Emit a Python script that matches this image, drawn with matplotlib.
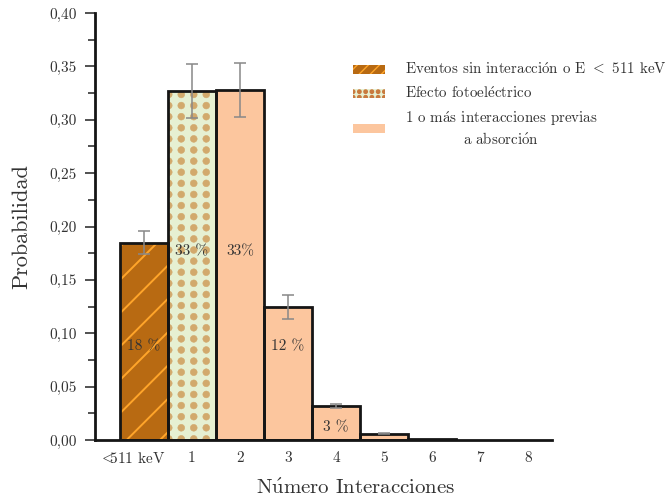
import matplotlib
matplotlib.use("Agg")
import numpy as np
from matplotlib import pyplot as plt
from matplotlib import hatch as mhatch
from matplotlib.patches import Patch
from matplotlib.path import Path
from matplotlib.transforms import ScaledTranslation

plt.rcParams['font.family'] = ['cmr10', 'DejaVu Serif']
plt.rcParams['mathtext.fontset'] = 'cm'
plt.rcParams['axes.formatter.use_mathtext'] = True

# data
categories = [r"${<}\!\!\!$511 keV", "1", "2", "3", "4", "5", "6", "7", "8"]
probs = [0.185, 0.327, 0.328, 0.1245, 0.032, 0.0058, 0.001, 0.0, 0.0]
errors = [0.011, 0.025, 0.025, 0.011, 0.002, 0.0004, 0.0, 0.0, 0.0]
pct_labels = ["18 %", "33 %", "33%", "12 %", "3 %"]
pct_y = [0.088, 0.177, 0.177, 0.088, 0.012]
legend_labels = [r"Eventos sin interacci$\mathrm{\acute{o}}$n o E ${<}$ 511 keV",
                 r"Efecto fotoel$\mathrm{\acute{e}}$ctrico",
                 "1 o m$\\mathrm{\\acute{a}}$s interacciones previas\na absorci$\\mathrm{\\acute{o}}$n"]
yticks = [0.0, 0.05, 0.10, 0.15, 0.20, 0.25, 0.30, 0.35, 0.40]

c_low, c_low_hatch = "#b86a12", "#ffa52a"
c_photo, c_photo_dot = "#e6f0d2", "#d2a96c"
c_multi = "#fcc69e"


# '.' hatch as a plain grid of filled dots (no staggering)
class DotGrid(mhatch.HatchPatternBase):
    def __init__(self, hatch, density):
        n = hatch.count('.')
        self.ncols, self.nrows = 8 * n, 9 * n
        self.r = 0.034 / max(n, 1)
        circ = Path.unit_circle()
        self.cv, self.cc = circ.vertices, circ.codes
        self.num_vertices = self.ncols * self.nrows * len(self.cv)

    def set_vertices_and_codes(self, vertices, codes):
        vp, cp = [], []
        for j in range(self.nrows):
            for i in range(self.ncols):
                vp.append(self.cv * self.r + [(i + 0.5) / self.ncols, (j + 0.5) / self.nrows])
                cp.append(self.cc)
        np.concatenate(vp, out=vertices)
        np.concatenate(cp, out=codes)


mhatch._hatch_types[mhatch._hatch_types.index(mhatch.SmallFilledCircles)] = DotGrid

x = np.arange(len(categories))

fig = plt.figure(figsize=(6.69, 4.99), dpi=100)
ax = fig.add_axes([0.142, 0.118, 0.683, 0.856])

b0 = ax.bar(x[0], probs[0], width=1, color=c_low, edgecolor=c_low_hatch, hatch='/', linewidth=0)
b1 = ax.bar(x[1], probs[1], width=1, color=c_photo, edgecolor=c_photo_dot, hatch='.', linewidth=0)
b2 = ax.bar(x[2:], probs[2:], width=1, color=c_multi, linewidth=0)
for p in b0:
    p.set_hatch_linewidth(1.4)
for p in b1:
    p.set_hatch_linewidth(0.4)

# outlines
ax.bar(x[:7], probs[:7], width=1, fill=False, edgecolor="#151515", linewidth=2)

ax.errorbar(x[:6], probs[:6], yerr=errors[:6], fmt='none', ecolor="#888888",
            elinewidth=1.1, capsize=4.5, capthick=1.1)

for i, (lab, yy) in enumerate(zip(pct_labels, pct_y)):
    ax.text(x[i], yy, lab, ha='center', va='center', fontsize=11, color="#333333")

ax.set_xlim(-1.02, 8.5)
ax.set_ylim(0, 0.40)
ax.set_xticks(x)
ax.set_xticklabels(categories, fontsize=11)
ax.tick_params(axis='x', length=0, pad=8, colors="#333333")
ax.get_xticklabels()[0].set_transform(ax.get_xticklabels()[0].get_transform()
                                      + ScaledTranslation(-0.12, 0, fig.dpi_scale_trans))
ax.set_yticks(yticks)
ax.set_yticks(np.arange(0.025, 0.40, 0.05), minor=True)
ax.set_yticklabels([("%.2f" % v).replace('.', ',') for v in yticks], fontsize=11)
ax.tick_params(axis='y', which='major', length=7, width=1.2, pad=6, colors="#333333")
ax.tick_params(axis='y', which='minor', length=5, width=1.2, colors="#333333")

for s in ['top', 'right']:
    ax.spines[s].set_visible(False)
for s in ['left', 'bottom']:
    ax.spines[s].set_linewidth(2)
    ax.spines[s].set_color("#151515")

ax.set_ylabel("Probabilidad", fontsize=16, color="#333333")
ax.yaxis.set_label_coords(-0.14, 0.5)
ax.set_xlabel(r"N$\mathrm{\acute{u}}$mero Interacciones", fontsize=15, color="#333333")
ax.xaxis.set_label_coords(0.571, -0.09)

h0 = Patch(facecolor=c_low, edgecolor=c_low_hatch, hatch='///', linewidth=0)
h1 = Patch(facecolor=c_photo, edgecolor="#c97a3e", hatch='..', linewidth=0)
h2 = Patch(facecolor=c_multi, edgecolor=c_multi, linewidth=0)
h0.set_hatch_linewidth(1.0)
h1.set_hatch_linewidth(0.3)
leg = ax.legend([h0, h1, h2], legend_labels, loc='upper left', bbox_to_anchor=(0.535, 0.918),
                frameon=False, fontsize=10.8, handlelength=2.15, handleheight=0.55,
                handletextpad=1.3, labelspacing=0.55)
for t in leg.get_texts():
    t.set_multialignment('center')
    t.set_color("#333333")

fig.savefig("out.png", dpi=100)
